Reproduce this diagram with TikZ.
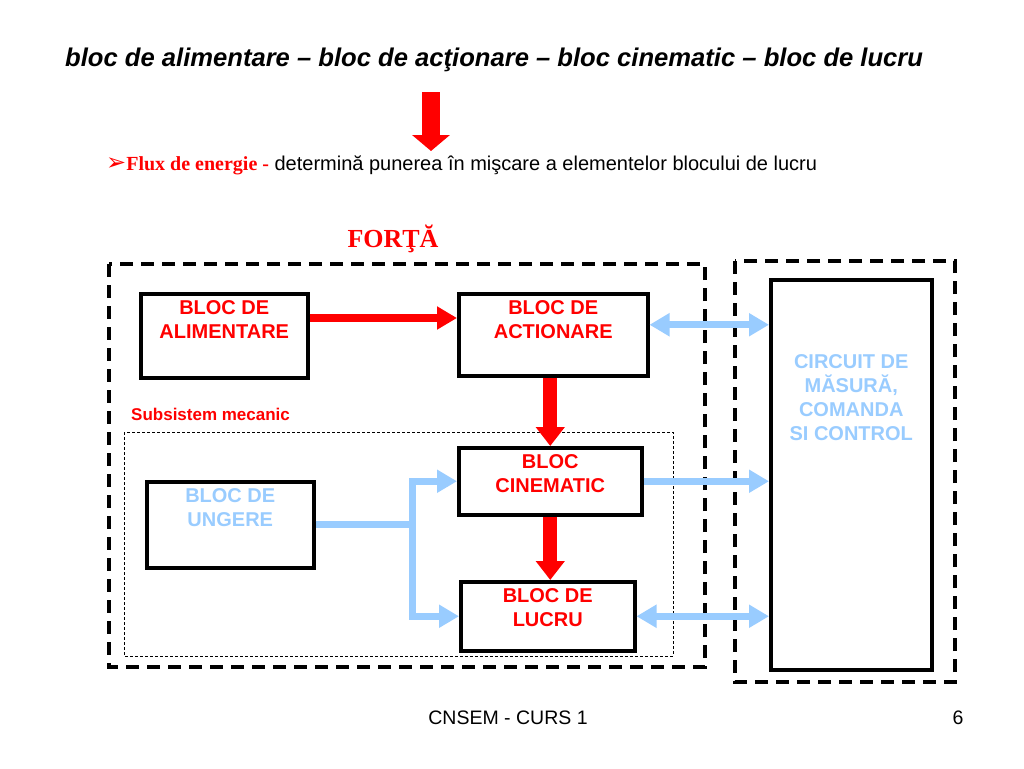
\documentclass[tikz,border=0pt]{standalone}
\usepackage{fontspec}
\setmainfont{Liberation Sans}
\newfontfamily\timesfont{Liberation Serif}
\newfontfamily\symfont{DejaVu Sans}
\usepackage{xcolor}
\usepackage{tikz}
\usetikzlibrary{arrows.meta, positioning}
\definecolor{lightblue}{RGB}{153,204,255}

\begin{document}
\begin{tikzpicture}[x=1pt, y=-1pt,
	bloc/.style={draw, line width=3.5pt, anchor=north west, inner sep=0pt},
	bloctext/.style={align=center, inner sep=0pt, anchor=north, font=\fontsize{20}{24}\selectfont\bfseries},
	frame/.style={draw, line width=3.5pt, dash pattern=on 13pt off 8pt},
	redflow/.style={draw=red, line width=8pt, -{Triangle[length=20pt, width=22pt]}},
	redbig/.style={draw=red, line width=14pt, -{Triangle[length=19pt, width=28pt]}},
	blueflow/.style={draw=lightblue, line width=7pt, -{Triangle[length=20pt, width=22pt]}},
	bluetwo/.style={draw=lightblue, line width=7pt, {Triangle[length=20pt, width=22pt]}-{Triangle[length=20pt, width=22pt]}}]
			\useasboundingbox[fill=white] (0,0) rectangle (1024,768);
			% titlu
			\node[anchor=west, inner sep=0pt, font=\fontsize{25.6}{30}\selectfont\bfseries\itshape] (titlu) at (65,60) {bloc de alimentare -- bloc de acţionare -- bloc cinematic -- bloc de lucru};
			\coordinate (sus) at (431,92);
			\coordinate (jos) at (431,151);
			\draw[draw=red, line width=18pt, -{Triangle[length=16pt, width=37pt]}] (sus) -- (jos);
			\node[anchor=west, inner sep=0pt, font=\fontsize{20}{24}\selectfont] (flux) at (106,165) {{\symfont\color{red}\fontsize{24}{24}\selectfont ➢}{\timesfont\bfseries\color{red}Flux de energie -} determină punerea în mişcare a elementelor blocului de lucru};
			\node[text=red, font=\fontsize{26}{30}\selectfont\timesfont\bfseries] (forta) at (393,239) {FORŢĂ};
			% chenare
			\draw[frame] (109,264) rectangle (705,667);
			\draw[frame] (735,261) rectangle (955,682);
			\draw[densely dashed, line width=0.8pt] (124,432) rectangle (673,656);
			\node[anchor=west, inner sep=0pt, text=red, font=\fontsize{17}{20}\selectfont\bfseries] (subs) at (131,414) {Subsistem mecanic};
			% blocuri
			\node[bloc, minimum width=167pt, minimum height=84pt] (alim) at (139,292) {};
			\node[bloc, minimum width=189pt, minimum height=82pt] (act) at (457,292) {};
			\node[bloc, minimum width=183pt, minimum height=67pt] (cin) at (457,446) {};
			\node[bloc, minimum width=174pt, minimum height=69pt] (lucru) at (459,580) {};
			\node[bloc, minimum width=167pt, minimum height=86pt] (ung) at (145,480) {};
			\node[bloc, minimum width=161pt, minimum height=390pt] (circ) at (769,278) {};
			\node[bloctext, text=red, below=8pt of alim.north] {BLOC DE\\ALIMENTARE};
			\node[bloctext, text=red, below=8pt of act.north] {BLOC DE\\ACTIONARE};
			\node[bloctext, text=red, below=8pt of cin.north] {BLOC\\CINEMATIC};
			\node[bloctext, text=red, below=8pt of lucru.north] {BLOC DE\\LUCRU};
			\node[bloctext, text=lightblue, below=8pt of ung.north] {BLOC DE\\UNGERE};
			\node[bloctext, text=lightblue, below=76pt of circ.north] {CIRCUIT DE\\MĂSURĂ,\\COMANDA\\SI CONTROL};
			% fluxuri
			\draw[redflow] ([yshift=-26pt]alim.north east) -- ([yshift=-26pt]act.north west);
			\draw[redbig] (cin.north |- act.south) -- (cin.north);
			\draw[redbig] (cin.south) -- (cin.south |- lucru.north);
			\draw[bluetwo] ([yshift=10pt]act.east) -- ([yshift=10pt]act.east -| circ.west);
			\draw[blueflow] (cin.east) -- (cin.east -| circ.west);
			\draw[bluetwo] (lucru.east) -- (lucru.east -| circ.west);
			\path (ung.east) ++(97,0) coordinate (ram);
			\draw[draw=lightblue, line width=7pt] (ung.east) -- (ram);
			\draw[blueflow] (ram) |- (cin.west);
			\draw[blueflow] (ram) |- (lucru.west);
			% subsol
			\node[font=\fontsize{19.5}{23}\selectfont] (curs) at (508,718) {CNSEM - CURS 1};
			\node[font=\fontsize{19.5}{23}\selectfont] (pag) at (958,718) {6};
		\end{tikzpicture}
\end{document}
